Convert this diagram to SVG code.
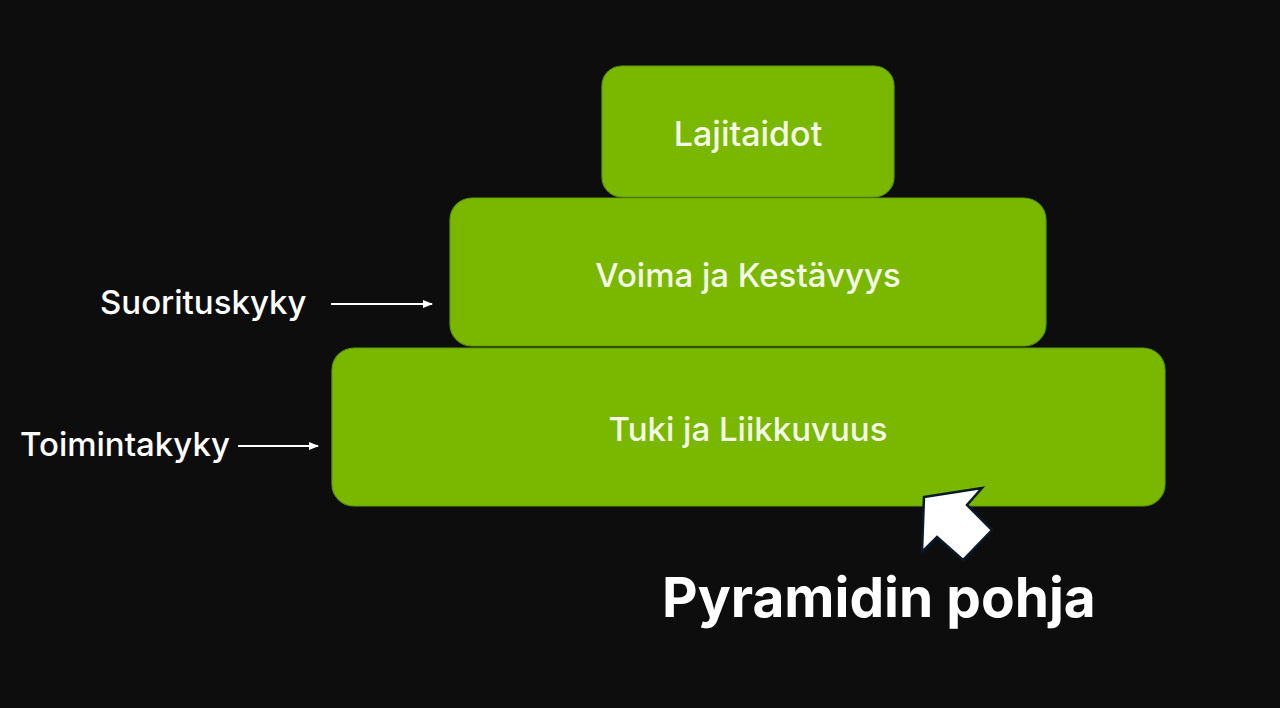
<svg xmlns="http://www.w3.org/2000/svg" width="1280" height="708" viewBox="0 0 1280 708">
<defs>
<style>
.box{fill:#7ab800;stroke:#5f9a0a;stroke-width:1.2}
.lbl{font-family:Inter,"Noto Sans","Liberation Sans",sans-serif;fill:#f4fbe8;text-anchor:middle;font-weight:500}
.side{font-family:Inter,"Noto Sans","Liberation Sans",sans-serif;fill:#ffffff;font-weight:500}
.conn{stroke:#ffffff;stroke-width:2;fill:none}
</style>
<marker id="ah" viewBox="0 0 10 10" refX="9" refY="5" markerWidth="5" markerHeight="5" orient="auto" markerUnits="strokeWidth">
<path d="M0,1 L10,5 L0,9 Z" fill="#ffffff"/>
</marker>
</defs>
<rect width="1280" height="708" fill="#0d0d0d"/>
<g id="node-lajitaidot">
<rect class="box" x="602" y="66" width="292" height="131" rx="20"/>
<text class="lbl" x="748" y="146" font-size="34">Lajitaidot</text>
</g>
<g id="node-voima">
<rect class="box" x="450" y="198" width="596" height="148" rx="22"/>
<text class="lbl" x="748" y="287" font-size="33">Voima ja Kestävyys</text>
</g>
<g id="node-tuki">
<rect class="box" x="332" y="348" width="833" height="158" rx="22"/>
<text class="lbl" x="748" y="441" font-size="33">Tuki ja Liikkuvuus</text>
</g>
<g id="label-suorituskyky">
<text class="side" x="100" y="314" font-size="33">Suorituskyky</text>
</g>
<g id="label-toimintakyky">
<text class="side" x="20" y="456" font-size="33">Toimintakyky</text>
</g>
<g id="label-pohja">
<text class="side" x="662" y="617" font-size="55" font-weight="700" style="font-weight:700">Pyramidin pohja</text>
</g>
<g id="connectors">
<line class="conn" x1="331" y1="304" x2="432" y2="304" marker-end="url(#ah)"/>
<line class="conn" x1="238" y1="446" x2="318" y2="446" marker-end="url(#ah)"/>
<polygon points="924,497 982,488 967,505 992,530 963,560 937,537 922,552" fill="#ffffff" stroke="#0a1a2a" stroke-width="2.5" stroke-linejoin="miter"/>
</g>
</svg>
